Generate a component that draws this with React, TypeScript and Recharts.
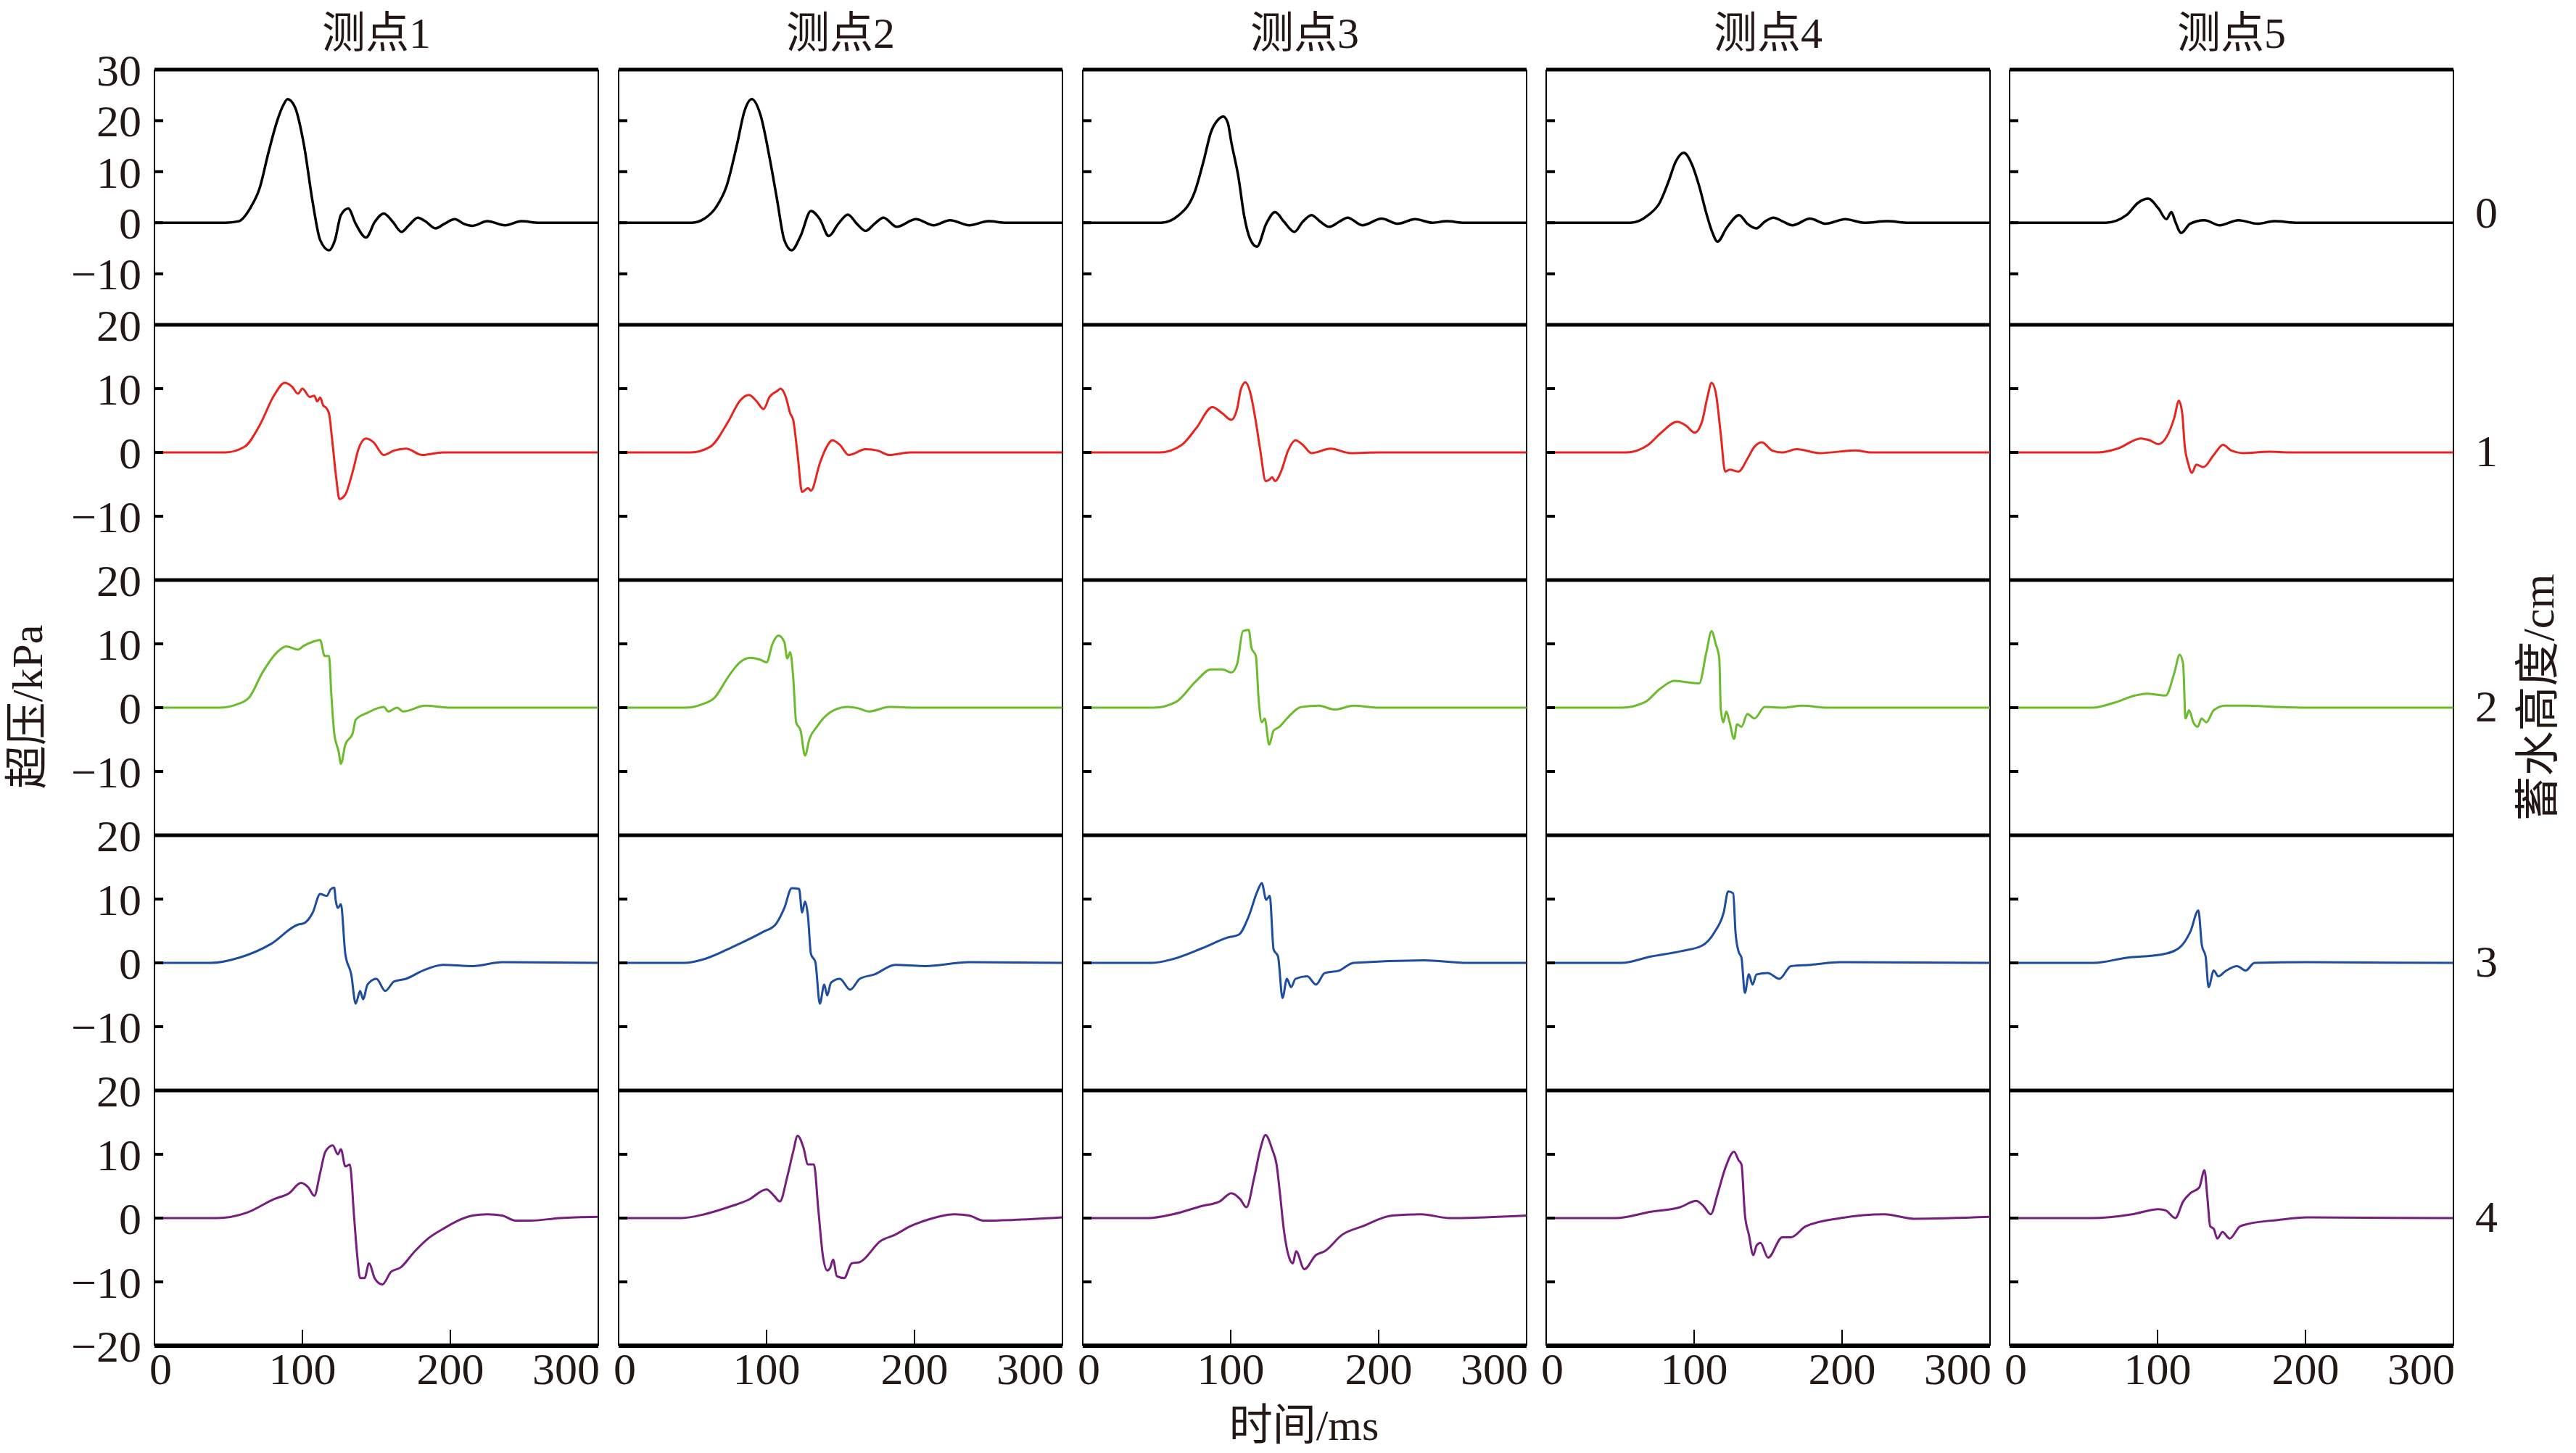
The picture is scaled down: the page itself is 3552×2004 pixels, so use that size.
import { LineChart, Line, XAxis, YAxis, ReferenceLine } from "recharts";

const STATIONS = ["测点1", "测点2", "测点3", "测点4", "测点5"];
const HEIGHTS = ["0", "1", "2", "3", "4"];
const TIME_TICKS = [0, 100, 200, 300];
const TOP_ROW_TICKS = [30, 20, 10, 0, -10];
const MID_ROW_TICKS = [20, 10, 0, -10];
const LAST_ROW_TICKS = [20, 10, 0, -10, -20];
const LINE_COLORS = ["#000000", "#e8241f", "#6cbb2d", "#1e4c9f", "#761e7e"];

// [time ms, overpressure kPa], water height 0..4 cm (H), station 1..5 (P)
const H0_P1 = [[0, 0], [48, 0], [57, 0.3], [65, 3], [71, 6.7], [77, 13.7], [83, 20], [87, 23], [90, 24.2], [95, 22.6], [101, 15.3], [107, 3.9], [112, -3.4], [118, -5.4], [122, -3.4], [126, 1.5], [131, 2.8], [136, -0.2], [143, -2.9], [149, 0.2], [155, 1.8], [161, 0.2], [167, -1.8], [172, -0.5], [178, 1.0], [183, 0.3], [190, -1.1], [196, -0.2], [203, 0.7], [209, -0.2], [215, -0.6], [225, 0.3], [237, -0.5], [248, 0.3], [260, 0], [300, 0]];
const H0_P2 = [[0, 0], [49.5, 0], [58, 0.8], [66, 3.1], [73, 7.2], [80, 15.3], [85, 21.8], [90, 24.2], [96, 21], [102, 12.8], [107, 4.7], [112, -3.4], [117, -5.4], [123, -2.6], [130, 2.3], [136, 0.7], [142, -2.6], [148.5, -0.2], [155, 1.6], [161, -0.2], [167, -1.6], [173, -0.2], [179, 1.0], [188, -0.8], [201, 0.7], [213, -0.5], [224, 0.5], [237, -0.5], [250, 0.3], [262, 0], [300, 0]];
const H0_P3 = [[0, 0], [53, 0], [65, 1.5], [76, 6.3], [81.6, 12], [86.6, 17.7], [91.5, 20.2], [95, 20.8], [98, 19.6], [100.4, 15.8], [105.3, 8.8], [109, 1.5], [113, -3.1], [117.7, -4.7], [124, -0.2], [130, 2.1], [136, 0.2], [143, -1.8], [148.7, 0.2], [154.6, 1.5], [160.6, 0.2], [166.5, -0.8], [173.4, 0.2], [179, 1.0], [189, -0.5], [202, 0.8], [213, -0.2], [224.6, 0.7], [236.5, 0], [246, 0.3], [258, 0], [300, 0]];
const H0_P4 = [[0, 0], [57, 0], [69, 1.5], [76.7, 3.9], [82.6, 8], [87.6, 12], [93, 13.7], [98.4, 11.5], [103.4, 7.2], [108.3, 1.8], [112.2, -1.8], [115.8, -3.7], [122, -1.0], [130.4, 1.5], [136, -0.2], [142, -1.1], [147.7, 0.2], [153.6, 1.0], [159.6, 0.3], [166.5, -0.5], [178.3, 0.8], [189, -0.2], [202, 0.7], [215, 0], [230.6, 0.3], [245, 0], [300, 0]];
const H0_P5 = [[0, 0], [65, 0], [79, 1.5], [86.8, 3.9], [93.7, 4.7], [100.6, 2.8], [106, 0.7], [109.4, 2.1], [112, 0.2], [116, -2.0], [122, -0.2], [131.7, 0.5], [142, -0.5], [154.7, 0.5], [167.5, -0.2], [179, 0.3], [195, 0], [300, 0]];

const H1_P1 = [[0, 0], [48, 0], [61, 0.9], [71, 4.2], [81, 9.0], [88, 10.9], [93, 10.3], [97, 9.2], [100, 10.0], [105, 8.7], [108, 8.9], [110, 8.0], [112, 8.6], [114, 7.4], [116, 7.0], [118, 6.1], [120, 2.2], [123, -4.3], [125, -7.3], [129, -6.6], [134, -3.0], [138, 0.6], [143, 2.2], [148, 1.6], [155, -0.4], [162, 0.3], [170, 0.6], [181, -0.4], [195, 0], [300, 0]];
const H1_P2 = [[0, 0], [48.5, 0], [62, 0.9], [74, 4.8], [82, 8.1], [88, 9.0], [93, 8.1], [98, 6.8], [102, 8.7], [107, 9.6], [109.5, 10.0], [113, 8.7], [116, 6.1], [118, 5.1], [121, -0.4], [124, -6.2], [128, -5.6], [130, -6.0], [136, -1.7], [140, 0.6], [144.5, 1.9], [149.5, 1.2], [155.5, -0.4], [167, 0.5], [175, 0.3], [183, -0.4], [197, 0], [300, 0]];
const H1_P3 = [[0, 0], [52, 0], [67, 1.2], [76.7, 3.8], [87.6, 7.1], [94.5, 6.1], [100.4, 5.1], [104.3, 6.8], [107, 10], [110, 11.0], [113.2, 9.4], [117, 4.8], [120, 0.3], [123.7, -4.5], [126, -4.3], [128, -3.9], [130, -4.5], [134, -3], [138.8, 0.3], [143.8, 1.9], [148.7, 1.2], [154.6, -0.1], [167.5, 0.6], [181, -0.1], [200, 0], [300, 0]];
const H1_P4 = [[0, 0], [54, 0], [69, 1.2], [77.7, 3.1], [88.6, 4.8], [94.5, 4.2], [100.4, 3.1], [105.3, 4.8], [109, 8.7], [111.8, 10.9], [114.6, 9.4], [118, 2.9], [121, -3.0], [124, -2.7], [130, -3.0], [136, -1.0], [140.8, 0.9], [145.8, 1.6], [152.7, 0.3], [159.6, 0], [169.4, 0.5], [185, -0.1], [209, 0.3], [220, 0], [300, 0]];
const H1_P5 = [[0, 0], [59, 0], [73, 0.6], [88.8, 2.2], [94.7, 1.9], [100.6, 1.3], [106.5, 2.6], [111.4, 5.5], [114.4, 8.1], [116.7, 6.1], [118.3, 1.2], [120.7, -1.7], [123.2, -3.2], [126.2, -1.9], [131, -2.3], [138, -0.4], [144.3, 1.2], [149.8, 0.3], [157.7, -0.1], [175.4, 0.1], [190, 0], [300, 0]];

const H2_P1 = [[0, 0], [44, 0], [55.5, 0.5], [64, 1.6], [73, 5.5], [83, 8.7], [89, 9.6], [97, 9.1], [101, 9.7], [108, 10.4], [112, 10.6], [115, 8.1], [118, 8.1], [119.5, 2.2], [121.5, -4.0], [124.5, -6.9], [126, -8.8], [129, -5.8], [134, -4.0], [136, -1.9], [144, -0.8], [155, 0.1], [158, -0.6], [164, 0], [168, -0.6], [183, 0.3], [200, 0], [300, 0]];
const H2_P2 = [[0, 0], [45.5, 0], [56, 0.5], [65, 1.6], [74, 4.8], [82, 7.1], [89, 7.8], [96, 7.5], [100, 7.1], [104, 10.0], [108, 11.3], [112, 10.3], [114, 7.7], [116, 8.7], [118, 4.8], [120, -2.3], [123, -3.6], [126, -7.5], [129, -4.9], [134, -3.0], [137.5, -1.9], [145.5, -0.4], [155, 0.1], [162, -0.1], [169, -0.6], [183, 0.1], [200, 0], [300, 0]];
const H2_P3 = [[0, 0], [48, 0], [63, 0.9], [76.7, 4.2], [86.6, 6.0], [94.5, 6.0], [100.4, 5.5], [104.3, 6.8], [108.3, 12.0], [112.2, 12.2], [114, 9.4], [117, 8.1], [119, 0.9], [121, -2.3], [123, -1.7], [126, -5.8], [129, -3.6], [133, -3.0], [138, -1.7], [147.7, 0.1], [159.6, 0.3], [170.4, -0.3], [183, 0.3], [200, 0], [300, 0]];
const H2_P4 = [[0, 0], [51, 0], [67, 0.9], [76.7, 2.9], [86.6, 4.2], [94.5, 4.0], [103.4, 3.8], [108.3, 8.7], [111.8, 12.0], [114.6, 10.0], [117, 7.7], [118, -0.1], [119.7, -2.3], [121.7, -0.6], [124, -2.3], [127, -4.9], [129, -2.6], [132, -3.0], [136, -1.0], [140.8, -1.7], [147.7, 0.1], [159.6, 0], [173.4, 0.3], [190, 0], [300, 0]];
const H2_P5 = [[0, 0], [56, 0], [71, 0.8], [84.8, 1.9], [92.7, 2.2], [105.5, 1.9], [111.4, 5.5], [115, 8.3], [117.3, 6.8], [118.9, -1.7], [121.3, -0.4], [124.2, -2.3], [127.2, -3.0], [129.7, -1.7], [133, -2.3], [138, -0.4], [145.9, 0.3], [159.6, 0.3], [181, 0.1], [200, 0], [300, 0]];

const H3_P1 = [[0, 0], [38, 0], [57, 0.8], [79, 3.0], [97, 6.0], [101, 6.2], [107, 7.9], [112, 10.8], [116.5, 10.5], [119, 11.5], [121.5, 11.8], [122.5, 9.8], [124, 8.6], [126, 9.2], [129, 1.4], [133, -1.8], [136, -6.4], [139, -4.4], [141, -5.7], [144, -3.4], [150, -2.5], [156, -4.4], [162, -2.9], [170, -2.5], [181.5, -1.2], [195, -0.3], [215, -0.5], [235, 0.1], [300, 0]];
const H3_P2 = [[0, 0], [44.5, 0], [58, 0.6], [78, 2.6], [98, 4.9], [106, 6.0], [112, 8.6], [117, 11.7], [122, 11.6], [124, 7.9], [126, 9.6], [128, 7.3], [130, 1.4], [133, 0.1], [136, -6.4], [139, -3.4], [141, -5.1], [143.5, -3.1], [149.5, -2.5], [156.5, -4.2], [163, -2.5], [173, -1.8], [187, -0.3], [207, -0.5], [237, 0.1], [300, 0]];
const H3_P3 = [[0, 0], [47, 0], [61, 0.6], [80.7, 2.3], [98.4, 4.0], [105.3, 4.4], [112.2, 7.3], [118, 11.2], [121, 12.5], [124, 9.9], [126.4, 10.5], [129, 2.1], [132, 1.0], [135, -5.5], [138, -2.5], [140.8, -3.8], [143.8, -2.5], [151.7, -2.1], [157.6, -3.4], [163.5, -1.6], [173.4, -1.2], [183, 0], [230.6, 0.4], [260, 0], [300, 0]];
const H3_P4 = [[0, 0], [51, 0], [70.8, 1.0], [90.5, 1.8], [105.3, 2.7], [114, 4.9], [120, 7.9], [123, 11.2], [126.4, 10.9], [128, 4.7], [130, 1.8], [132, 0.8], [134.3, -4.7], [137, -1.8], [139.5, -3.4], [142.2, -1.8], [149.7, -1.6], [157.6, -2.5], [165.5, -0.5], [179, -0.3], [199, 0.1], [300, 0]];
const H3_P5 = [[0, 0], [57, 0], [79, 0.8], [102.6, 1.3], [114.4, 2.3], [122.2, 4.9], [127.6, 8.2], [130, 2.7], [132.5, 1.0], [134.5, -3.8], [138, -1.2], [141, -2.1], [145.9, -1.3], [153.7, -0.5], [159.6, -1.2], [165.5, 0], [201, 0.1], [300, 0]];

const H4_P1 = [[0, 0], [42, 0], [63, 0.9], [81, 3.0], [91, 3.9], [99, 5.5], [104, 4.8], [108, 3.5], [112, 7.1], [115.5, 10.4], [120.5, 11.4], [124, 10.0], [126, 10.8], [129, 8.1], [132, 8.4], [135, 0], [137, -5.8], [139, -9.4], [142, -9.4], [145, -7.1], [149, -9.5], [154, -10.4], [160, -8.4], [166, -7.8], [176, -5.2], [185, -3.2], [195, -1.7], [205, -0.4], [215, 0.4], [225, 0.6], [235, 0.4], [244, -0.4], [254, -0.4], [274, 0], [300, 0.2]];
const H4_P2 = [[0, 0], [42.5, 0], [58, 0.6], [74, 1.7], [88, 2.9], [100, 4.5], [105, 3.5], [109, 2.6], [114, 6.5], [118, 10.4], [121, 12.9], [125, 11.0], [128, 8.4], [132, 8.4], [135, 1.3], [138, -5.8], [141, -8.2], [143, -7.8], [145, -6.5], [147.5, -9.1], [152.5, -9.4], [157.5, -7.1], [163, -6.9], [177, -3.6], [187, -2.6], [197, -1.3], [207, -0.4], [227, 0.6], [237, 0.4], [246.5, -0.4], [266, -0.3], [300, 0.1]];
const H4_P3 = [[0, 0], [44, 0], [61, 0.6], [80.7, 1.9], [92.5, 2.6], [100.4, 3.9], [106.3, 3.0], [110.6, 1.7], [116, 6.5], [120, 10.8], [123.5, 13.0], [128, 10.8], [131, 8.4], [133, 4.5], [136, -2.0], [140, -6.5], [142, -7.1], [144.2, -5.2], [149.7, -8.0], [157.6, -5.8], [163.5, -5.2], [175.4, -2.6], [189, -1.3], [209, 0.4], [228.6, 0.6], [248.3, 0], [300, 0.4]];
const H4_P4 = [[0, 0], [47, 0], [70.8, 1.0], [90.5, 1.7], [101.4, 2.7], [106.3, 1.9], [111.2, 0.6], [116, 3.9], [121, 7.8], [127, 10.4], [130, 9.1], [132, 8.4], [134.3, 0.6], [137, -2.6], [140, -5.8], [142.2, -4.3], [144.8, -3.9], [150, -6.2], [159.6, -3.0], [165.5, -3.0], [175.4, -1.3], [199, 0], [228.6, 0.6], [248.3, -0.1], [300, 0.2]];
const H4_P5 = [[0, 0], [55, 0], [83, 0.6], [100.6, 1.4], [105.5, 1.2], [112, 0], [117.3, 2.6], [122.2, 3.9], [128.2, 4.8], [131.7, 7.5], [133.7, 3.2], [135.6, -1.3], [138, -1.7], [140.4, -3.2], [143.9, -2.2], [148.8, -3.2], [155.7, -1.3], [161.6, -0.9], [181, -0.3], [201, 0.1], [300, 0]];

const SERIES = [
  [H0_P1, H0_P2, H0_P3, H0_P4, H0_P5],
  [H1_P1, H1_P2, H1_P3, H1_P4, H1_P5],
  [H2_P1, H2_P2, H2_P3, H2_P4, H2_P5],
  [H3_P1, H3_P2, H3_P3, H3_P4, H3_P5],
  [H4_P1, H4_P2, H4_P3, H4_P4, H4_P5],
];

const FONT = "'Liberation Serif', 'Noto Sans CJK SC', serif";
const TEXT = "#231815";
const PLOT_LEFT = [213, 853, 1493, 2132, 2771];
const PLOT_W = 612;
const PLOT_TOP = 96;
const PLOT_H = 352;
const Y_MARGIN = 18;
const X_MARGIN = 10;

const fmt = (v: number) => (v < 0 ? `\u2212${-v}` : `${v}`);
const rowTop = (r: number) => (r === 0 ? 30 : 20);

function PressureTick(props: any) {
  const { x, y, payload, lo, hi, showLabel } = props;
  const v = payload.value;
  const edge = x + Y_MARGIN;
  return (
    <g>
      {v !== lo && v !== hi && (
        <line x1={edge} x2={edge + 12} y1={y} y2={y} stroke="#000" strokeWidth={4} />
      )}
      {showLabel && (
        <text x={x} y={y} dy="0.35em" textAnchor="end" fontSize={62} fill={TEXT} fontFamily={FONT}>
          {fmt(v)}
        </text>
      )}
    </g>
  );
}

function TimeTick(props: any) {
  const { x, y, payload } = props;
  const v = payload.value;
  const edge = y - X_MARGIN;
  const anchor = v === 0 ? "start" : v === 300 ? "end" : "middle";
  const tx = v === 0 ? x - 7 : v === 300 ? x + 2 : x;
  return (
    <g>
      {v !== 0 && v !== 300 && (
        <line x1={x} x2={x} y1={edge} y2={edge - 22} stroke="#000" strokeWidth={2} />
      )}
      <text x={tx} y={edge + 53} textAnchor={anchor} fontSize={62} fill={TEXT} fontFamily={FONT}>
        {v}
      </text>
    </g>
  );
}

function Panel({ row, col }: { row: number; col: number }) {
  const pts = SERIES[row][col].map(([t, v]) => ({ t, v }));
  const last = row === 4;
  const hi = rowTop(row);
  const lo = -20;
  const ticks = row === 0 ? TOP_ROW_TICKS : last ? LAST_ROW_TICKS : MID_ROW_TICKS;
  const yw = col === 0 ? 130 : 20;
  const mt = 34;
  const mr = 4;
  const mb = last ? 0 : 4;
  const xh = last ? 80 : 0;
  const w = yw + PLOT_W + mr;
  const h = mt + PLOT_H + xh + mb;

  return (
    <div style={{ position: "absolute", left: PLOT_LEFT[col] - yw, top: PLOT_TOP + row * PLOT_H - mt }}>
      <LineChart width={w} height={h} data={pts} margin={{ top: mt, right: mr, bottom: mb, left: 0 }}>
        <XAxis
          type="number"
          dataKey="t"
          domain={[0, 300]}
          ticks={TIME_TICKS}
          interval={0}
          hide={!last}
          height={xh}
          tickSize={0}
          tickMargin={X_MARGIN}
          axisLine={false}
          tickLine={false}
          tick={(p: any) => <TimeTick {...p} />}
        />
        <YAxis
          type="number"
          domain={[lo, hi]}
          ticks={ticks}
          interval={0}
          width={yw}
          tickSize={0}
          tickMargin={Y_MARGIN}
          axisLine={false}
          tickLine={false}
          allowDataOverflow
          tick={(p: any) => <PressureTick {...p} lo={lo} hi={hi} showLabel={col === 0} />}
        />
        <ReferenceLine y={hi} stroke="#000" strokeWidth={5} />
        {last && <ReferenceLine y={lo} stroke="#000" strokeWidth={6} />}
        <ReferenceLine x={0} stroke="#000" strokeWidth={2} />
        <ReferenceLine x={300} stroke="#000" strokeWidth={2} />
        <Line
          dataKey="v"
          type="monotone"
          stroke={LINE_COLORS[row]}
          strokeWidth={row === 0 ? 3.5 : 3}
          dot={false}
          isAnimationActive={false}
        />
      </LineChart>
    </div>
  );
}

const label = (extra: React.CSSProperties): React.CSSProperties => ({
  position: "absolute",
  whiteSpace: "nowrap",
  fontFamily: FONT,
  color: TEXT,
  lineHeight: 1,
  ...extra,
});

export default function App() {
  return (
    <div style={{ position: "absolute", left: 0, top: 0, width: 3552, height: 2004, background: "#fff", overflow: "hidden" }}>
      {STATIONS.map((s, c) => (
        <div
          key={s}
          style={label({ left: PLOT_LEFT[c] + PLOT_W / 2, top: 46, fontSize: 60, transform: "translate(-50%, -50%)" })}
        >
          {s}
        </div>
      ))}
      {SERIES.map((rowSeries, r) => rowSeries.map((_, c) => <Panel key={`${r}-${c}`} row={r} col={c} />))}
      {HEIGHTS.map((hgt, r) => (
        <div
          key={hgt}
          style={label({
            left: PLOT_LEFT[4] + PLOT_W + 30,
            top: PLOT_TOP + r * PLOT_H + (PLOT_H * rowTop(r)) / (rowTop(r) + 20) - (r === 0 ? 14 : 2),
            fontSize: 62,
            transform: "translateY(-50%)",
          })}
        >
          {hgt}
        </div>
      ))}
      <div style={label({ left: 1798, top: 1966, fontSize: 60, transform: "translate(-50%, -50%)" })}>时间/ms</div>
      <div style={label({ left: 38, top: 975, fontSize: 60, transform: "translate(-50%, -50%) rotate(-90deg)" })}>
        超压/kPa
      </div>
      <div style={label({ left: 3500, top: 962, fontSize: 62, transform: "translate(-50%, -50%) rotate(-90deg)" })}>
        蓄水高度/cm
      </div>
    </div>
  );
}
